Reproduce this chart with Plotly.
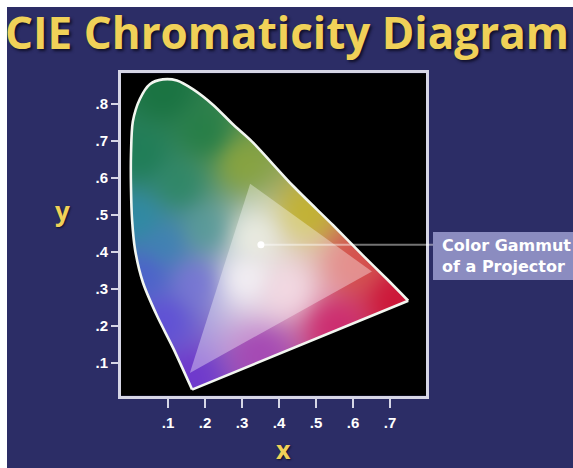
import numpy as np
import plotly.graph_objects as go

# ---- data -----------------------------------------------------------------
# Spectral locus outline (CIE x, y), from the violet tip up the left side to the red end
locus_x = [0.165, 0.114, 0.070, 0.032, 0.011, 0.003, 0.000, 0.000, 0.005, 0.024, 0.051,
           0.086, 0.124, 0.168, 0.222, 0.276, 0.327, 0.438, 0.546, 0.627, 0.692, 0.749]
locus_y = [0.028, 0.140, 0.228, 0.318, 0.406, 0.485, 0.573, 0.664, 0.752, 0.813, 0.853,
           0.866, 0.863, 0.839, 0.797, 0.744, 0.698, 0.578, 0.472, 0.390, 0.326, 0.268]

# Projector primaries (red, green, blue)
gamut_x = [0.651, 0.322, 0.159]
gamut_y = [0.347, 0.584, 0.073]

# White point of the projector
white_x = [0.351]
white_y = [0.419]

x_ticks = [0.1, 0.2, 0.3, 0.4, 0.5, 0.6, 0.7]
x_tick_labels = [".1", ".2", ".3", ".4", ".5", ".6", ".7"]
y_ticks = [0.1, 0.2, 0.3, 0.4, 0.5, 0.6, 0.7, 0.8]
y_tick_labels = [".1", ".2", ".3", ".4", ".5", ".6", ".7", ".8"]

# ---- styling ----------------------------------------------------------------
X_RANGE = [-0.027, 0.797]
Y_RANGE = [0.012, 0.882]
BG = "#2c2d66"
GOLD = "#f0d158"
FRAME = "#d6d6e6"

# colour anchors used to paint the chromaticity field
anchors = [
    (0.09, 0.83, (25, 115, 65)),
    (0.20, 0.72, (35, 125, 70)),
    (0.03, 0.66, (30, 125, 85)),
    (0.13, 0.58, (45, 135, 100)),
    (0.02, 0.49, (45, 140, 165)),
    (0.20, 0.46, (85, 155, 150)),
    (0.09, 0.42, (60, 130, 180)),
    (0.04, 0.34, (75, 95, 205)),
    (0.17, 0.32, (120, 115, 215)),
    (0.09, 0.22, (95, 78, 215)),
    (0.16, 0.06, (110, 55, 205)),
    (0.35, 0.13, (165, 70, 180)),
    (0.55, 0.20, (205, 40, 110)),
    (0.72, 0.27, (205, 20, 55)),
    (0.60, 0.37, (215, 80, 75)),
    (0.47, 0.50, (195, 180, 45)),
    (0.30, 0.64, (140, 165, 60)),
    (0.31, 0.33, (245, 240, 245)),
    (0.33, 0.44, (230, 232, 215)),
    (0.42, 0.30, (240, 200, 215)),
]


def inside(px, py, vx, vy):
    """Even-odd point-in-polygon test on grids."""
    res = np.zeros(px.shape, dtype=bool)
    n = len(vx)
    j = n - 1
    for i in range(n):
        xi, yi, xj, yj = vx[i], vy[i], vx[j], vy[j]
        cond = ((yi > py) != (yj > py)) & (
            px < (xj - xi) * (py - yi) / ((yj - yi) if yj != yi else 1e-12) + xi)
        res ^= cond
        j = i
    return res


step = 0.0027
xs = np.arange(X_RANGE[0], X_RANGE[1], step) + step / 2
ys = np.arange(Y_RANGE[0], Y_RANGE[1], step) + step / 2
GX, GY = np.meshgrid(xs, ys)

wsum = np.zeros(GX.shape)
acc = np.zeros(GX.shape + (3,))
for ax_, ay_, col in anchors:
    d2 = (GX - ax_) ** 2 + (GY - ay_) ** 2 + 3e-3
    w = 1.0 / d2 ** 1.6
    wsum += w
    acc += w[..., None] * np.array(col, dtype=float)
rgb = acc / wsum[..., None]

mask = inside(GX, GY, locus_x + [locus_x[0]], locus_y + [locus_y[0]])
rgb[~mask] = 0
rgb = np.clip(rgb, 0, 255).astype(np.uint8)

fig = go.Figure()

fig.add_trace(go.Image(z=rgb, x0=xs[0], dx=step, y0=ys[0], dy=step,
                       colormodel="rgb", hoverinfo="skip"))

# projector gamut (lightened triangle)
fig.add_trace(go.Scatter(x=gamut_x + [gamut_x[0]], y=gamut_y + [gamut_y[0]],
                         fill="toself", fillcolor="rgba(255,255,255,0.36)",
                         mode="lines", line=dict(width=0), hoverinfo="skip"))

# spectral locus outline
fig.add_trace(go.Scatter(x=locus_x, y=locus_y, mode="lines",
                         line=dict(color="#f2f6f0", width=2.6, shape="spline", smoothing=0.8),
                         hoverinfo="skip"))
# line of purples
fig.add_trace(go.Scatter(x=[locus_x[-1], locus_x[0]], y=[locus_y[-1], locus_y[0]],
                         mode="lines", line=dict(color="#f2f6f0", width=2.6),
                         hoverinfo="skip"))

# white point
fig.add_trace(go.Scatter(x=white_x, y=white_y, mode="markers",
                         marker=dict(color="white", size=7), hoverinfo="skip"))


def px_x(p):
    return (p - 121) / 305


def px_y(p):
    return (398 - p) / 327


shapes = [
    # leader line from white point to the label
    dict(type="line", xref="x", yref="y", x0=white_x[0], y0=white_y[0],
         x1=X_RANGE[1], y1=white_y[0], line=dict(color="rgba(255,255,255,0.45)", width=2)),
    dict(type="line", xref="paper", yref="y", x0=1.0, y0=white_y[0],
         x1=px_x(433), y1=white_y[0], line=dict(color="rgba(255,255,255,0.45)", width=2)),
    # label box
    dict(type="rect", xref="paper", yref="paper", x0=px_x(433), x1=px_x(600),
         y0=px_y(280), y1=px_y(232), fillcolor="#8b8cc0", line=dict(width=0)),
    # white edges of the slide
    dict(type="rect", xref="paper", yref="paper", x0=px_x(-5), x1=px_x(7),
         y0=px_y(480), y1=px_y(-5), fillcolor="white", line=dict(width=0)),
    dict(type="rect", xref="paper", yref="paper", x0=px_x(-5), x1=px_x(600),
         y0=px_y(7), y1=px_y(-5), fillcolor="white", line=dict(width=0)),
]

annotations = [
    dict(text="CIE Chromaticity Diagram", xref="paper", yref="paper",
         x=px_x(287), y=px_y(32), xanchor="center", yanchor="middle", showarrow=False,
         font=dict(family="Open Sans", size=44, color=GOLD, weight=700,
                   shadow="2px 2px 3px #10102a")),
    dict(text="x", xref="paper", yref="paper", x=px_x(283), y=px_y(449),
         xanchor="center", yanchor="middle", showarrow=False,
         font=dict(family="Open Sans", size=25, color=GOLD, weight=700,
                   shadow="1px 1px 2px #10102a")),
    dict(text="y", xref="paper", yref="paper", x=px_x(62), y=px_y(211),
         xanchor="center", yanchor="middle", showarrow=False,
         font=dict(family="Open Sans", size=26, color=GOLD, weight=700,
                   shadow="1px 1px 2px #10102a")),
    dict(text="Color Gammut<br>of a Projector", xref="paper", yref="paper",
         x=px_x(440), y=px_y(256), xanchor="left", yanchor="middle", align="left",
         showarrow=False,
         font=dict(family="DejaVu Sans", size=16, color="white", weight=700)),
]

fig.update_layout(
    width=573, height=468,
    margin=dict(l=121, r=147, t=71, b=70),
    paper_bgcolor=BG, plot_bgcolor="black",
    showlegend=False,
    shapes=shapes, annotations=annotations,
    xaxis=dict(range=X_RANGE, tickvals=x_ticks, ticktext=x_tick_labels,
               showgrid=False, zeroline=False, showline=True, mirror=True,
               linecolor=FRAME, linewidth=3, ticks="outside", ticklen=9,
               tickwidth=2, tickcolor=FRAME, scaleanchor=False, ticklabelstandoff=2,
               tickfont=dict(family="Liberation Sans", size=15, color="white", weight=700)),
    yaxis=dict(range=Y_RANGE, tickvals=y_ticks, ticktext=y_tick_labels,
               showgrid=False, zeroline=False, showline=True, mirror=True,
               linecolor=FRAME, linewidth=3, ticks="outside", ticklen=7,
               tickwidth=2, tickcolor=FRAME, autorange=False,
               tickfont=dict(family="Liberation Sans", size=15, color="white", weight=700)),
)

fig.write_html("out.html")
